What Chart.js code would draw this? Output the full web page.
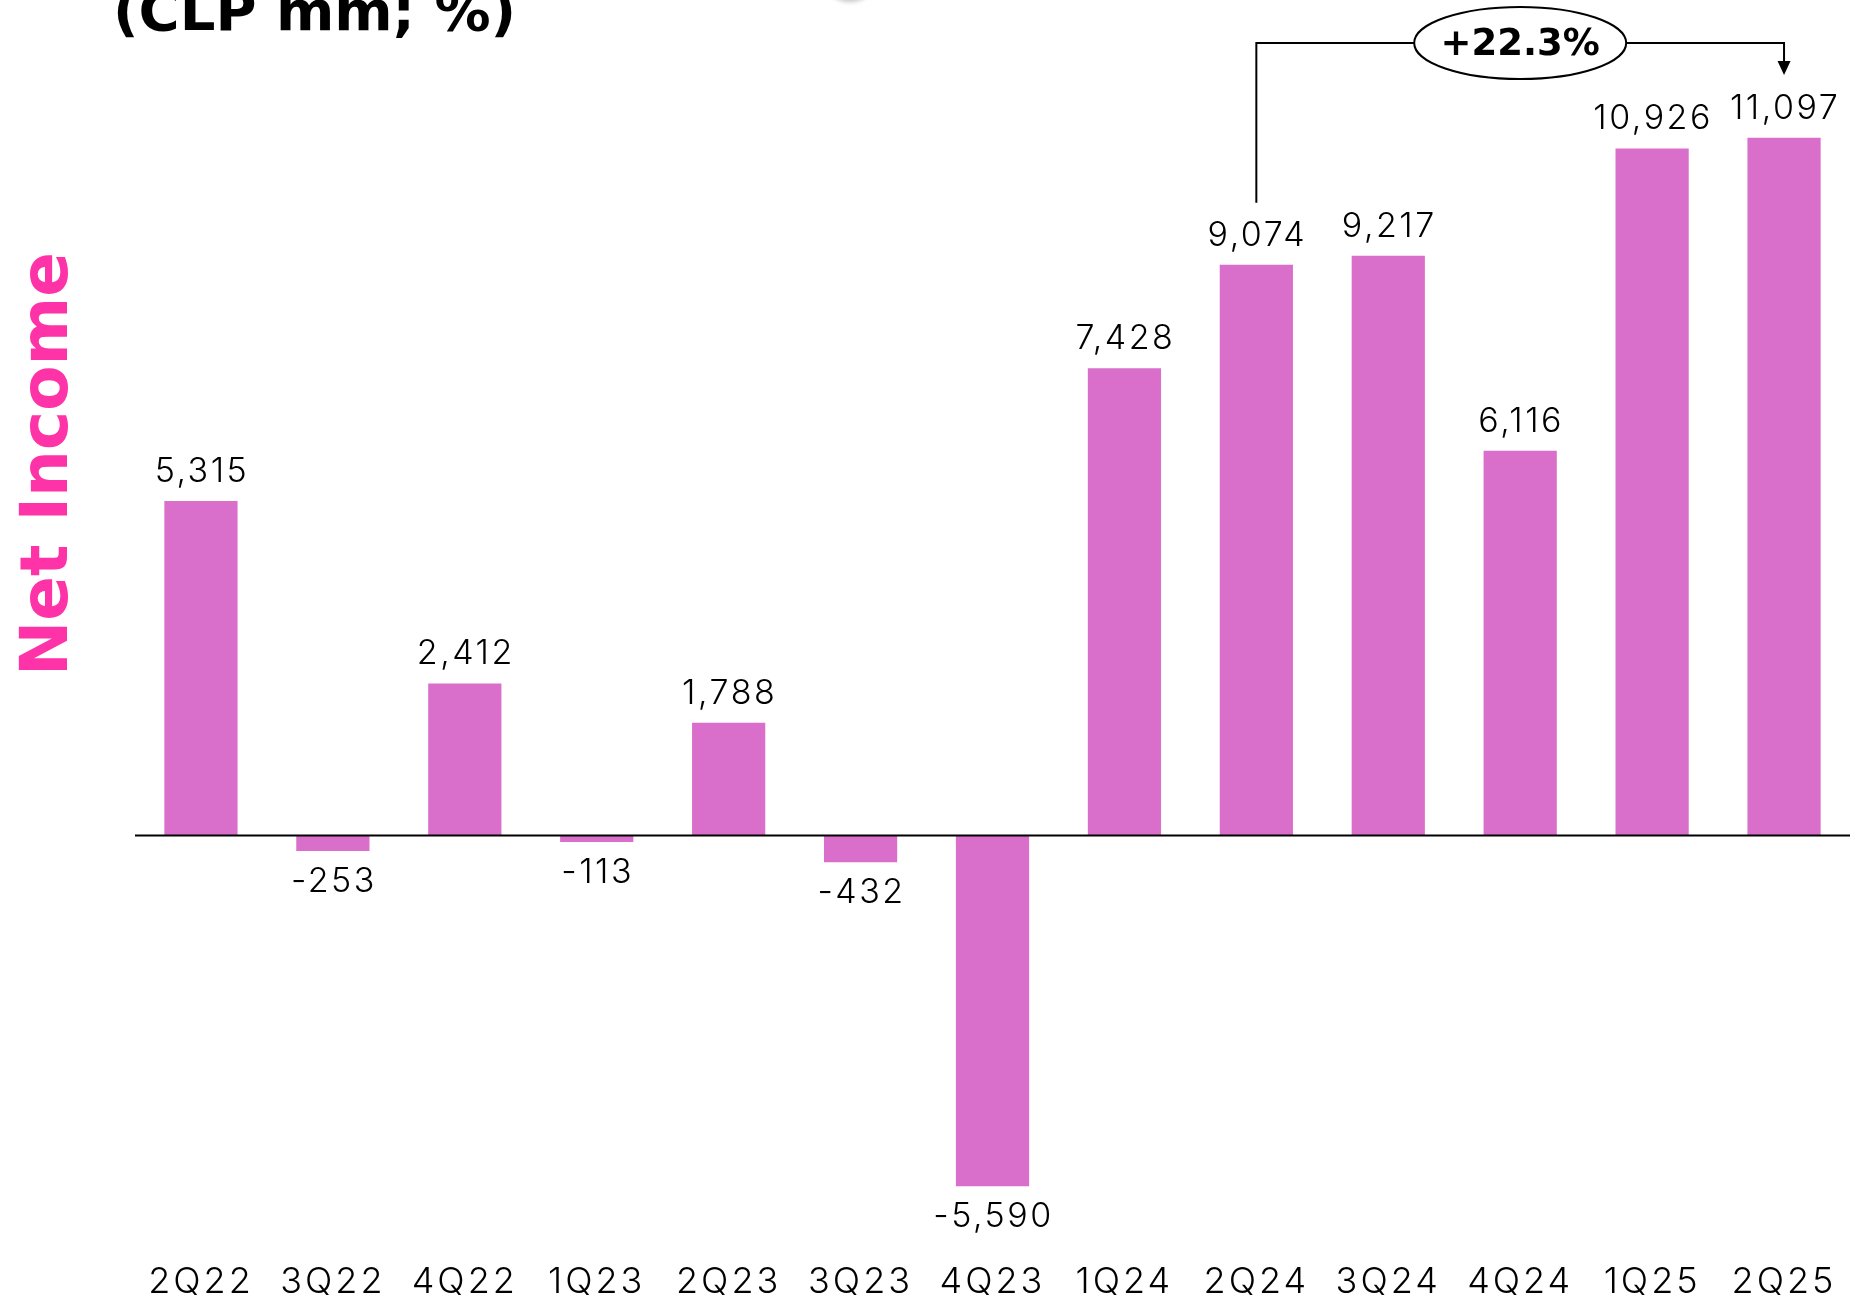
<!DOCTYPE html>
<html>
<head>
<meta charset="utf-8">
<title>Net Income</title>
<script src="https://cdn.jsdelivr.net/npm/chart.js@4.4.1/dist/chart.umd.min.js"></script>
<style>
  html, body { margin: 0; padding: 0; background: #fff; overflow: hidden; }
  canvas { display: block; }
</style>
</head>
<body>
<canvas id="netIncome" width="1850" height="1302"></canvas>
<script>
const quarters = ['2Q22', '3Q22', '4Q22', '1Q23', '2Q23', '3Q23', '4Q23', '1Q24', '2Q24', '3Q24', '4Q24', '1Q25', '2Q25'];
const netIncome = [5315, -253, 2412, -113, 1788, -432, -5590, 7428, 9074, 9217, 6116, 10926, 11097];
const growthLabel = '+22.3%';
const growthFrom = '2Q24';
const growthTo = '2Q25';
const yRange = [-6000, 12000];

const barColor = '#D96ECB';
const accent = '#FF33A8';
const lightFont = '"Inter", "Lato", sans-serif';
const boldFont = '"DejaVu Sans", sans-serif';

// wider tracking for the quarter labels drawn by the x scale
const tracking = {
  id: 'tracking',
  beforeDraw(chart) { chart.ctx.letterSpacing = '3px'; },
  afterDraw(chart) { chart.ctx.letterSpacing = '0px'; }
};

// zero line across the plot
const zeroLine = {
  id: 'zeroLine',
  afterDatasetsDraw(chart) {
    const { ctx, chartArea, scales } = chart;
    const y0 = Math.round(scales.y.getPixelForValue(0)) + 0.5;
    ctx.save();
    ctx.strokeStyle = '#000';
    ctx.lineWidth = 2;
    ctx.beginPath();
    ctx.moveTo(chartArea.left, y0);
    ctx.lineTo(chartArea.right, y0);
    ctx.stroke();
    ctx.restore();
  }
};

// value above positive bars, below negative ones
const valueLabels = {
  id: 'valueLabels',
  afterDatasetsDraw(chart) {
    const ctx = chart.ctx;
    const meta = chart.getDatasetMeta(0);
    ctx.save();
    ctx.font = `300 34px ${lightFont}`;
    ctx.letterSpacing = '2.5px';
    ctx.fillStyle = '#000';
    ctx.textAlign = 'center';
    ctx.textBaseline = 'alphabetic';
    meta.data.forEach((bar, i) => {
      const v = netIncome[i];
      const txt = v.toLocaleString('en-US');
      ctx.fillText(txt, bar.x + 1, v >= 0 ? bar.y - 19 : bar.y + 41);
    });
    ctx.restore();
  }
};

// bracket + growth bubble between two quarters
const growthBracket = {
  id: 'growthBracket',
  afterDraw(chart) {
    const { ctx, chartArea, scales } = chart;
    const i0 = quarters.indexOf(growthFrom);
    const i1 = quarters.indexOf(growthTo);
    const xa = scales.x.getPixelForValue(i0);
    const xb = scales.x.getPixelForValue(i1);
    const top = chartArea.top - 38;
    const start = scales.y.getPixelForValue(netIncome[i0]) - 62;
    const tip = chartArea.top - 6;
    ctx.save();
    ctx.letterSpacing = '0px';
    ctx.strokeStyle = '#000';
    ctx.fillStyle = '#000';
    ctx.lineWidth = 2;
    ctx.beginPath();
    ctx.moveTo(xa, start);
    ctx.lineTo(xa, top);
    ctx.lineTo(xb, top);
    ctx.lineTo(xb, tip - 12);
    ctx.stroke();
    ctx.beginPath();
    ctx.moveTo(xb - 6.5, tip - 14);
    ctx.lineTo(xb + 6.5, tip - 14);
    ctx.lineTo(xb, tip);
    ctx.closePath();
    ctx.fill();

    const cx = (xa + xb) / 2;
    ctx.beginPath();
    ctx.ellipse(cx, top, 106, 36, 0, 0, Math.PI * 2);
    ctx.fillStyle = '#fff';
    ctx.fill();
    ctx.stroke();
    ctx.fillStyle = '#000';
    ctx.font = `bold 37px ${boldFont}`;
    ctx.textAlign = 'center';
    ctx.textBaseline = 'middle';
    ctx.fillText(growthLabel, cx, top + 2);
    ctx.restore();
  }
};

// heading and side title
const titles = {
  id: 'titles',
  afterDraw(chart) {
    const ctx = chart.ctx;
    ctx.save();
    ctx.letterSpacing = '0px';
    // faint grey shape peeking in at the top edge
    ctx.filter = 'blur(2px)';
    ctx.fillStyle = '#c8c8c8';
    ctx.beginPath();
    ctx.ellipse(850, -14, 22, 16, 0, 0, Math.PI * 2);
    ctx.fill();
    ctx.filter = 'none';

    ctx.fillStyle = '#000';
    ctx.font = `bold 56px ${boldFont}`;
    ctx.textAlign = 'left';
    ctx.textBaseline = 'alphabetic';
    ctx.fillText('(CLP mm; %)', 113, 30);

    ctx.translate(50, 464);
    ctx.rotate(-Math.PI / 2);
    ctx.fillStyle = accent;
    ctx.font = `bold 66px ${boldFont}`;
    ctx.textAlign = 'center';
    ctx.textBaseline = 'middle';
    ctx.fillText('Net Income', 0, 0);
    ctx.restore();
  }
};

new Chart(document.getElementById('netIncome').getContext('2d'), {
  type: 'bar',
  data: {
    labels: quarters,
    datasets: [{
      data: netIncome,
      backgroundColor: barColor,
      barPercentage: 0.555,
      categoryPercentage: 1
    }]
  },
  options: {
    responsive: false,
    animation: false,
    layout: { padding: { left: 135, right: 0, top: 81, bottom: 0 } },
    plugins: { legend: { display: false }, tooltip: { enabled: false } },
    scales: {
      x: {
        grid: { display: true, drawOnChartArea: false, drawTicks: true, tickLength: 45, color: 'transparent' },
        border: { display: false },
        ticks: {
          color: '#000',
          padding: 4,
          maxRotation: 0,
          autoSkip: false,
          font: { family: lightFont, size: 36, weight: 300 }
        },
        afterFit(scale) { scale.height = 90; }
      },
      y: {
        display: false,
        min: yRange[0],
        max: yRange[1]
      }
    }
  },
  plugins: [tracking, zeroLine, valueLabels, growthBracket, titles]
});
</script>
</body>
</html>
